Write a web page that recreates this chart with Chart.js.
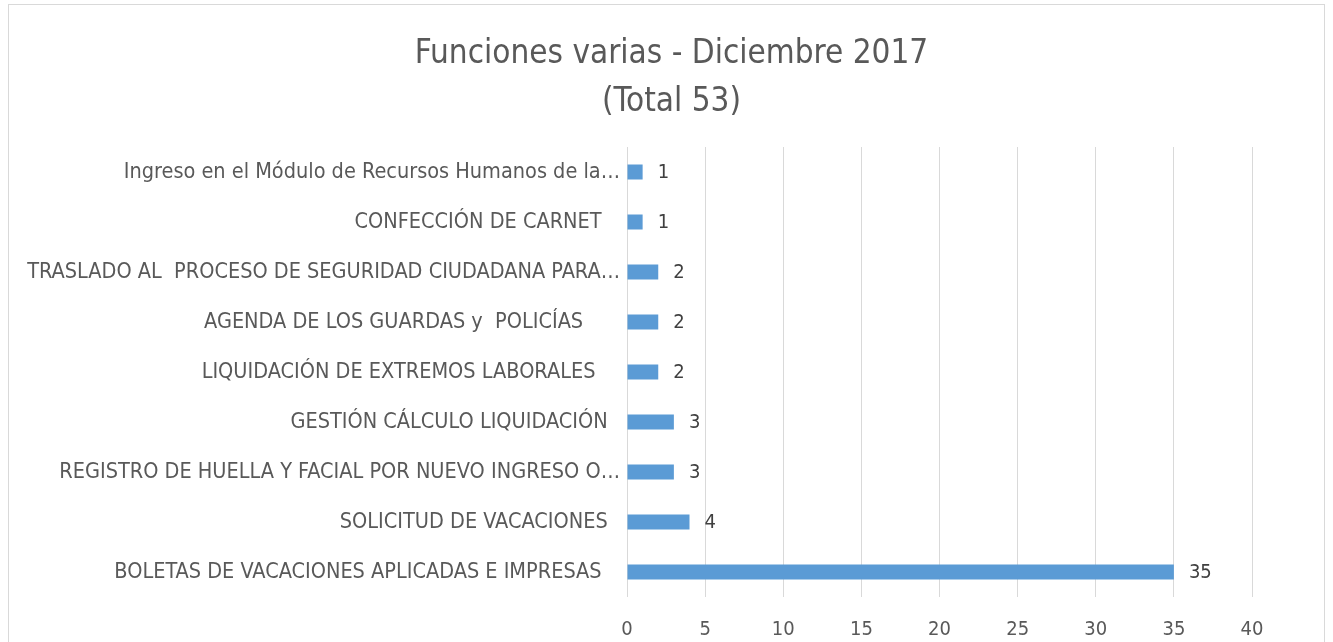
<!DOCTYPE html>
<html>
<head>
<meta charset="utf-8">
<script src="https://cdn.jsdelivr.net/npm/chart.js@4/dist/chart.umd.min.js"></script>
<style>
    body { margin: 0; background: #fff; }
    #wrap { position: relative; width: 1333px; height: 642px; }
</style>
</head>
<body>
<div id="wrap"><canvas id="myChart" width="1333" height="642"></canvas></div>
<script>
const categorias = [
    "Ingreso en el Módulo de Recursos Humanos de la…",
    "CONFECCIÓN DE CARNET   ",
    "TRASLADO AL  PROCESO DE SEGURIDAD CIUDADANA PARA…",
    "AGENDA DE LOS GUARDAS y  POLICÍAS      ",
    "LIQUIDACIÓN DE EXTREMOS LABORALES    ",
    "GESTIÓN CÁLCULO LIQUIDACIÓN  ",
    "REGISTRO DE HUELLA Y FACIAL POR NUEVO INGRESO O…",
    "SOLICITUD DE VACACIONES  ",
    "BOLETAS DE VACACIONES APLICADAS E IMPRESAS   "
]
const valores = [1, 1, 2, 2, 2, 3, 3, 4, 35]
const titulo = ["Funciones varias - Diciembre 2017", "(Total 53)"]

const fuente = "'Liberation Sans Narrow', 'DejaVu Sans Condensed', 'Open Sans', sans-serif"
const gris = "#595959"

// numeros al final de cada barra
const etiquetas = {
    id: "etiquetas",
    afterDatasetsDraw(chart) {
        const ctx = chart.ctx
        const meta = chart.getDatasetMeta(0)
        ctx.save()
        ctx.font = "20px " + fuente
        ctx.fillStyle = "#404040"
        ctx.textAlign = "left"
        ctx.textBaseline = "middle"
        meta.data.forEach((bar, i) => {
            ctx.fillText(String(valores[i]), bar.x + 15, bar.y + 1)
        })
        ctx.restore()
    }
}

// borde gris y titulo (centrado en todo el recuadro, no en el area del grafico)
const borde = {
    id: "borde",
    beforeDraw(chart) {
        const ctx = chart.ctx
        ctx.save()
        ctx.fillStyle = "#fff"
        ctx.fillRect(0, 0, chart.width, chart.height)
        ctx.strokeStyle = "#d9d9d9"
        ctx.lineWidth = 1
        ctx.strokeRect(8.5, 4.5, 1316, 700)

        ctx.font = "33px " + fuente
        ctx.fillStyle = gris
        ctx.textAlign = "center"
        ctx.textBaseline = "middle"
        const centroX = (8 + 1325) / 2 + 5
        titulo.forEach((linea, i) => {
            ctx.fillText(linea, centroX, 54 + i * 48)
        })
        ctx.restore()
    }
}

const ctx = document.getElementById("myChart").getContext("2d")
const myChart = new Chart(ctx, {
    type: "bar",
    data: {
        labels: categorias,
        datasets: [{
            data: valores,
            backgroundColor: "#5b9bd5",
            borderWidth: 0,
            barPercentage: 0.6,
            categoryPercentage: 0.5
        }]
    },
    options: {
        indexAxis: "y",
        responsive: false,
        animation: false,
        layout: { padding: { left: 0, right: 81, top: 147, bottom: 0 } },
        scales: {
            x: {
                min: 0,
                max: 40,
                ticks: { stepSize: 5, color: gris, font: { family: fuente, size: 20 }, padding: 21 },
                grid: { color: "#d9d9d9", drawTicks: false },
                border: { display: false },
                afterFit: (scale) => { scale.height = 45 }
            },
            y: {
                ticks: { color: gris, font: { family: fuente, size: 21.5 }, padding: 7, autoSkip: false },
                grid: { display: false, drawTicks: false },
                border: { display: false },
                afterFit: (scale) => { scale.width = 627 }
            }
        },
        plugins: {
            legend: { display: false },
            tooltip: { enabled: false },
            title: { display: false }
        }
    },
    plugins: [borde, etiquetas]
})
</script>
</body>
</html>
